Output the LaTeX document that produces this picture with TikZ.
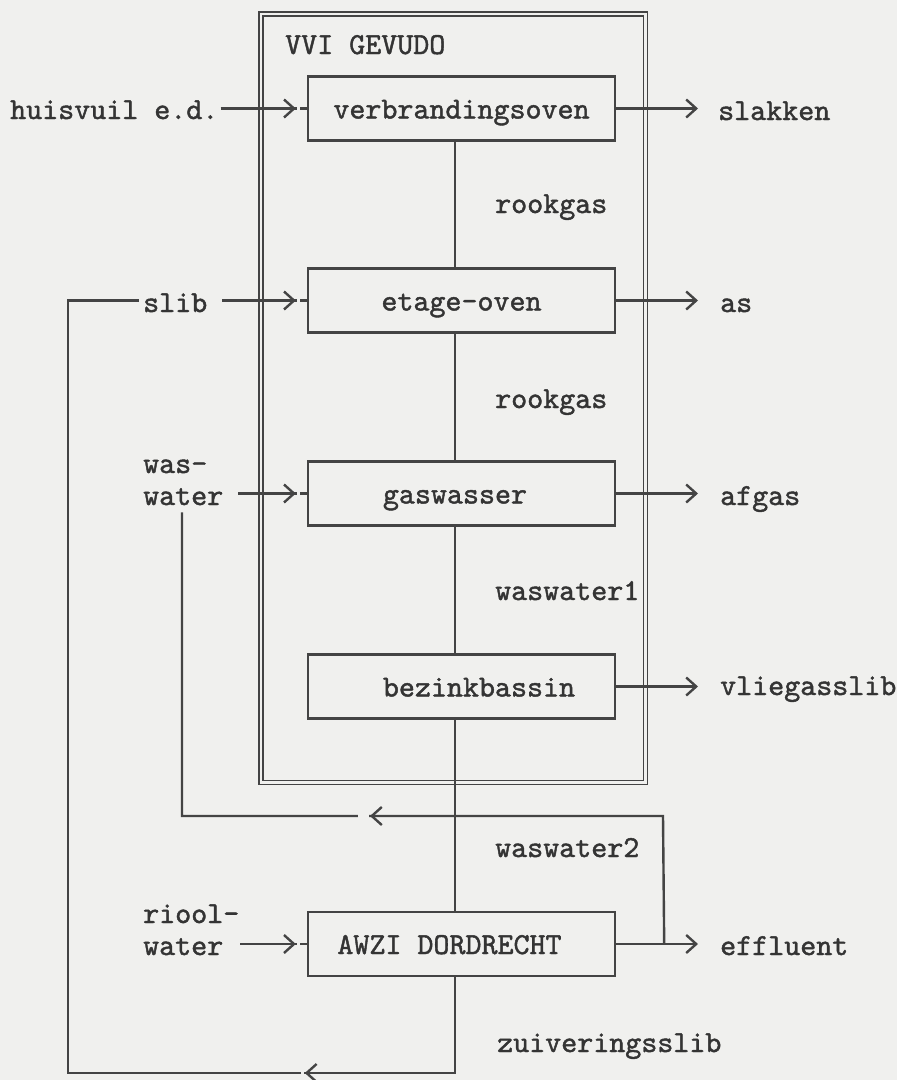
\documentclass[tikz,border=0pt]{standalone}
\usetikzlibrary{arrows.meta,decorations.markings,calc}
\definecolor{paper}{RGB}{240,240,238}
\definecolor{ink}{RGB}{68,68,68}
\definecolor{txtc}{RGB}{52,52,52}
\font\diagfnt="[lmmono10-regular]:embolden=1.4" at 30.5pt
\newcommand\diagfont{\diagfnt}
\begin{document}
\begin{tikzpicture}[x=1pt,y=-1pt,
  >={Straight Barb[length=10pt,width=18pt]},
  ln/.style={line width=2.4pt, draw=ink},
  lbl/.style={inner sep=0pt, anchor=base west, text=txtc, font=\diagfont},
  procbox/.style={draw=ink, line width=2.4pt, minimum width=307pt, minimum height=64pt,
    inner sep=0pt, text height=20pt, text depth=0pt, text=txtc, font=\diagfont},
  inarrow/.style={ln, postaction={decorate}, decoration={markings,
    mark=at position -11pt with {\fill[paper] (1pt,-2.5pt) rectangle (4pt,2.5pt); \arrow[ink]{>}}}},
  retarrow/.style 2 args={ln, postaction={decorate}, decoration={markings,
    mark=at position #1 with {\fill[paper] (1pt,-2.5pt) rectangle (#2,2.5pt); \arrow[ink]{>}}}},
]
\fill[paper] (0,0) rectangle (897,1080);
\useasboundingbox (0,0) rectangle (897,1080);

% outer double box
\node[draw=ink, double=paper, double distance=2.5pt, line width=1.6pt,
      minimum width=384.5pt, minimum height=768.5pt, inner sep=0pt] (vvi) at (453.25,398.25) {};
\node[lbl] (vvit) at (285,54) {VVI GEVUDO};

% process boxes
\node[procbox] (verb) at (461.5,108.5) {verbrandingsoven};
\node[procbox] (etage) at (461.5,300.5) {etage-oven};
\node[procbox] (gasw) at (461.5,493.5) {gaswasser\hspace*{13pt}};
\node[procbox] (bez) at (461.5,686.5) {\hspace*{35pt}bezinkbassin};
\node[procbox] (awzi) at (461.5,944) {AWZI DORDRECHT\hspace*{24pt}};

% labels
\node[lbl] (huis) at (10,119) {huisvuil e.d.};
\node[lbl] (slak) at (718,120) {slakken};
\node[lbl] (rook1) at (495,213) {rookgas};
\node[lbl] (slib) at (143,312) {slib};
\node[lbl] (as) at (720,312) {as};
\node[lbl] (rook2) at (495,408) {rookgas};
\node[lbl] (was) at (143,473) {was-};
\node[lbl] (wwin) at (143,505) {water};
\node[lbl] (afgas) at (720,505) {afgas};
\node[lbl] (ww1) at (495,600) {waswater1};
\node[lbl] (vlieg) at (720,695) {vliegasslib};
\node[lbl] (ww2) at (495,857) {waswater2};
\node[lbl] (riool) at (143,923) {riool-};
\node[lbl] (rwin) at (143,955) {water};
\node[lbl] (effl) at (720,955) {effluent};
\node[lbl] (zuiv) at (497,1052) {zuiveringsslib};

% inputs
\draw[inarrow] ($(huis.east |- verb.west)+(2,0)$) -- (verb.west);
\draw[inarrow] ($(slib.east |- etage.west)+(15,0)$) -- (etage.west);
\draw[inarrow] ($(wwin.east |- gasw.west)+(15,0)$) -- (gasw.west);
\draw[inarrow] ($(rwin.east |- awzi.west)+(17,0)$) -- (awzi.west);

% outputs
\draw[ln,->] (verb.east) -- ($(verb.east -| slak.west)+(-20,0)$);
\draw[ln,->] (etage.east) -- ($(etage.east -| as.west)+(-22,0)$);
\draw[ln,->] (gasw.east) -- ($(gasw.east -| afgas.west)+(-22,0)$);
\draw[ln,->] (bez.east) -- ($(bez.east -| vlieg.west)+(-22,0)$);
\draw[ln,->] (awzi.east) -- ($(awzi.east -| effl.west)+(-22,0)$);

% main vertical chain
\draw[ln] ([xshift=-6.5pt]verb.south) -- ([xshift=-6.5pt]etage.north);
\draw[ln] ([xshift=-6.5pt]etage.south) -- ([xshift=-6.5pt]gasw.north);
\draw[ln] ([xshift=-6.5pt]gasw.south) -- ([xshift=-6.5pt]bez.north);
\draw[ln] ([xshift=-6.5pt]bez.south) -- ([xshift=-6.5pt]awzi.north);

% zuiveringsslib return
\coordinate (z1) at (455,1073);
\coordinate (z2) at (68,1073);
\coordinate (z3) at (z2 |- etage.west);
\draw[retarrow={246pt}{4pt}] ([xshift=-6.5pt]awzi.south) -- (z1) -- (z2) -- (z3) -- ($(slib.west |- etage.west)+(-4,0)$);

% effluent recycle to waswater
\coordinate (j) at ($(awzi.east)+(48,0)$);
\coordinate (r1) at (663,816);
\coordinate (r2) at (182,816);
\draw[retarrow={421pt}{12pt}] (j) -- (r1) -- (r2) -- ($(r2 |- wwin.south)+(0,7)$);
\end{tikzpicture}
\end{document}
